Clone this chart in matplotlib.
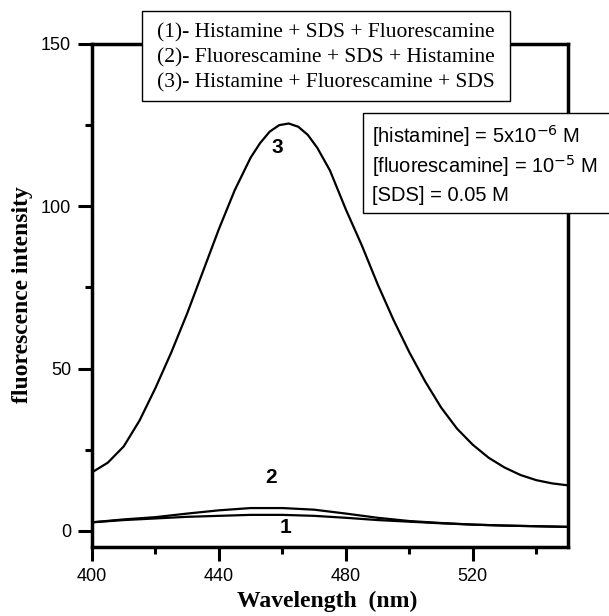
import numpy as np
import matplotlib
matplotlib.use("Agg")
import matplotlib.pyplot as plt
from matplotlib.patches import Rectangle
from matplotlib.ticker import MultipleLocator

# emission spectra
wl = [400, 405, 410, 415, 420, 425, 430, 435, 440, 445, 450, 453, 456, 459, 462, 465,
      468, 471, 475, 480, 485, 490, 495, 500, 505, 510, 515, 520, 525, 530, 535, 540,
      545, 550]
curve3 = [18, 21, 26, 34, 44, 55, 67, 80, 93, 105, 115, 119.5, 123, 125, 125.5, 124.5,
          122, 118, 111, 99, 88, 76, 65, 55, 46, 38, 31.5, 26.5, 22.5, 19.5, 17.2, 15.6,
          14.6, 14]

wl_low = [400, 410, 420, 430, 440, 450, 460, 470, 480, 490, 500, 510, 520, 530, 540, 550]
curve1 = [2.6, 3.3, 3.8, 4.3, 4.6, 4.9, 4.9, 4.6, 4.0, 3.3, 2.8, 2.3, 1.9, 1.6, 1.4, 1.2]
curve2 = [2.6, 3.5, 4.2, 5.3, 6.3, 7.0, 7.0, 6.5, 5.3, 4.0, 3.0, 2.4, 1.9, 1.6, 1.4, 1.2]

legend_lines = ["(1)- Histamine + SDS + Fluorescamine",
                "(2)- Fluorescamine + SDS + Histamine",
                "(3)- Histamine + Fluorescamine + SDS"]
conc_lines = [r"[histamine] = 5x10$^{-6}$ M",
              r"[fluorescamine] = 10$^{-5}$ M",
              "[SDS] = 0.05 M"]

W, H = 609, 616
fig = plt.figure(figsize=(W / 100, H / 100), dpi=100)
ax = fig.add_axes([92 / W, 1 - 547 / H, (568 - 92) / W, (547 - 44) / H])

ax.plot(wl, curve3, color="black", lw=1.6)
ax.plot(wl_low, curve1, color="black", lw=1.6)
ax.plot(wl_low, curve2, color="black", lw=1.6)

ax.set_xlim(400, 550)
ax.set_ylim(-5, 150)
ax.xaxis.set_major_locator(MultipleLocator(40))
ax.xaxis.set_minor_locator(MultipleLocator(20))
ax.yaxis.set_major_locator(MultipleLocator(50))
ax.yaxis.set_minor_locator(MultipleLocator(25))
ax.tick_params(which="major", direction="out", length=10, width=2.2, labelsize=13, pad=5)
ax.tick_params(which="minor", direction="out", length=5, width=2.2)
for lab in ax.get_xticklabels() + ax.get_yticklabels():
    lab.set_fontfamily("Liberation Sans")
for sp in ax.spines.values():
    sp.set_linewidth(2.5)

fig.text(327 / W, 1 - 601 / H, "Wavelength  (nm)", ha="center", va="center",
         family="Liberation Serif", weight="bold", fontsize=17)
fig.text(23 / W, 1 - 295 / H, "fluorescence intensity", ha="center", va="center", rotation=90,
         family="Liberation Serif", weight="bold", fontsize=17)

# curve numbers
ax.text(458.5, 118, "3", ha="center", va="center", fontsize=15, weight="bold", family="Liberation Sans")
ax.text(456.5, 16.5, "2", ha="center", va="center", fontsize=15, weight="bold", family="Liberation Sans")
ax.text(461, 1.0, "1", ha="center", va="center", fontsize=15, weight="bold", family="Liberation Sans")

# legend box at top
fig.patches.append(Rectangle((142 / W, 1 - 101 / H), (510 - 142) / W, (101 - 11) / H,
                             transform=fig.transFigure, fc="white", ec="black", lw=1, zorder=5))
for i, s in enumerate(legend_lines):
    fig.text(326 / W, 1 - (33 + 25 * i) / H, s, ha="center", va="center",
             family="Liberation Serif", fontsize=15.5, zorder=6)

# concentration box, runs off the right edge
fig.patches.append(Rectangle((363 / W, 1 - 213 / H), (620 - 363) / W, (213 - 113) / H,
                             transform=fig.transFigure, fc="white", ec="black", lw=1, zorder=5))
for i, s in enumerate(conc_lines):
    fig.text(372 / W, 1 - (136 + 30 * i) / H, s, ha="left", va="center",
             family="Liberation Sans", fontsize=14.5, zorder=6)

fig.savefig("out.png", dpi=100)
